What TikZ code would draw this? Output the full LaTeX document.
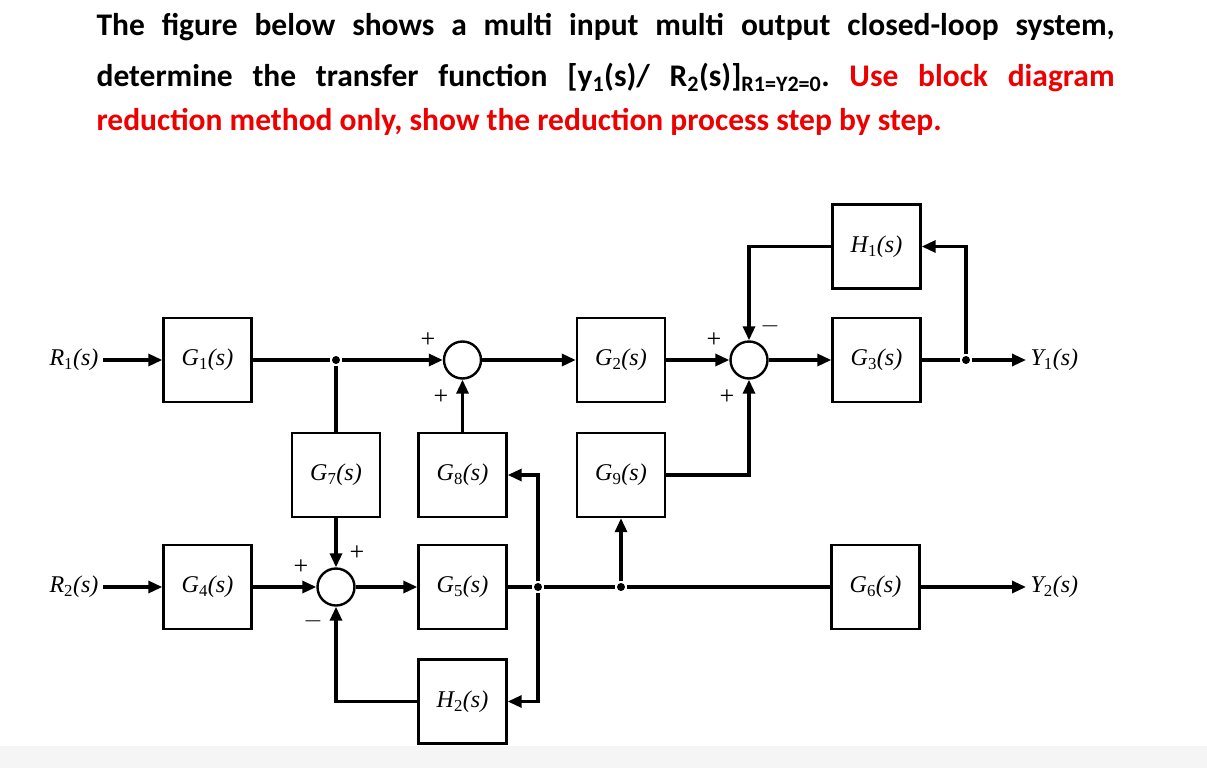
\documentclass[tikz,border=0pt]{standalone}
\usepackage{fontspec}
\setmainfont{Carlito}
\newfontfamily\tms{Liberation Serif}
\usetikzlibrary{arrows.meta}
\definecolor{qred}{RGB}{238,0,0}
\newcommand\tf[2]{{\tms\itshape #1\textsubscript{\upshape #2}(s)}}
\frenchspacing
\begin{document}
\begin{tikzpicture}[x=1pt,y=-1pt,line width=3.2pt,>={Triangle[length=14pt,width=12pt]},
  blk/.style={draw,line width=2.4pt,minimum width=88pt,minimum height=84pt,font=\fontsize{24}{24}\selectfont},
  sumj/.style={draw,circle,line width=2.4pt,minimum size=37pt,inner sep=0pt},
  sgn/.style={font=\tms\fontsize{26}{26}\selectfont,inner sep=0pt},
  lbl/.style={font=\fontsize{24}{24}\selectfont,inner sep=3pt},
  dot/.style={circle,fill,inner sep=0pt,minimum size=8pt},
  hd/.style={font=\fontsize{31.5}{34}\selectfont\bfseries,inner sep=0pt}]
\useasboundingbox (0,0) rectangle (1207,768);
\fill[gray!8] (0,746) rectangle (1207,768);
\node[hd,anchor=base west] (t1) at (95,36) {\makebox[1018pt][s]{The figure below shows a multi input multi output closed-loop system,}};
\node[hd,anchor=base west] (t2) at (95,86) {\makebox[1018pt][s]{determine the transfer function [y\textsubscript{1}(s)/ R\textsubscript{2}(s)]\textsubscript{R1=Y2=0}. \textcolor{qred}{Use block diagram}}};
\node[hd,anchor=base west,text=qred] (t3) at (95,130) {reduction method only, show the reduction process step by step.};
\node[blk] (g1) at (207.5,360) {\tf{G}{1}};
\node[blk] (g2) at (621,360) {\tf{G}{2}};
\node[blk] (g3) at (876.5,360) {\tf{G}{3}};
\node[blk] (h1) at (876.5,246.5) {\tf{H}{1}};
\node[blk] (g7) at (336,475) {\tf{G}{7}};
\node[blk] (g8) at (462.5,475) {\tf{G}{8}};
\node[blk] (g9) at (621,475) {\tf{G}{9}};
\node[blk] (g4) at (207.5,587) {\tf{G}{4}};
\node[blk] (g5) at (462.5,587) {\tf{G}{5}};
\node[blk] (g6) at (875.5,587) {\tf{G}{6}};
\node[blk] (h2) at (462.5,701.5) {\tf{H}{2}};
\node[sumj] (s1) at (462.5,360) {};
\node[sumj] (s2) at (749,360) {};
\node[sumj] (s3) at (336,587) {};
\node[dot] (b1) at (336,360) {};
\node[dot] (b3) at (966,360) {};
\node[dot] (b5) at (538,587) {};
\node[dot] (b6) at (621,587) {};
\node[lbl,anchor=east] (r1) at (103,360) {\tf{R}{1}};
\node[lbl,anchor=east] (r2) at (103,587) {\tf{R}{2}};
\node[lbl,anchor=west] (y1) at (1026,360) {\tf{Y}{1}};
\node[lbl,anchor=west] (y2) at (1026,587) {\tf{Y}{2}};
\node[sgn] (p1) at (428,340) {+};
\node[sgn] (p2) at (441,397) {+};
\node[sgn] (p3) at (714,340) {+};
\node[sgn] (p4) at (727,397) {+};
\node[sgn] (m1) at (770,326) {$-$};
\node[sgn] (p5) at (301,567) {+};
\node[sgn] (p6) at (357,553) {+};
\node[sgn] (m2) at (313,621) {$-$};
\draw[->] (r1) -- (g1);
\draw (g1) -- (b1);
\draw[->] (b1) -- (s1);
\draw (b1) -- (g7);
\draw[->] (g7) -- (s3);
\draw[->] (s1) -- (g2);
\draw[->] (g2) -- (s2);
\draw[->] (s2) -- (g3);
\draw (g3) -- (b3);
\draw[->] (b3) -- (y1);
\draw[->] (b3) |- (h1);
\draw[->] (h1) -| (s2);
\draw[->] (g9) -| (s2);
\draw[->] (g8) -- (s1);
\draw[->] (r2) -- (g4);
\draw[->] (g4) -- (s3);
\draw[->] (s3) -- (g5);
\draw (g5) -- (b5) -- (b6) -- (g6);
\draw[->] (g6) -- (y2);
\draw[->] (b5) |- (g8);
\draw[->] (b5) |- (h2);
\draw[->] (b6) -- (g9);
\draw[->] (h2) -| (s3);
\end{tikzpicture}
\end{document}
